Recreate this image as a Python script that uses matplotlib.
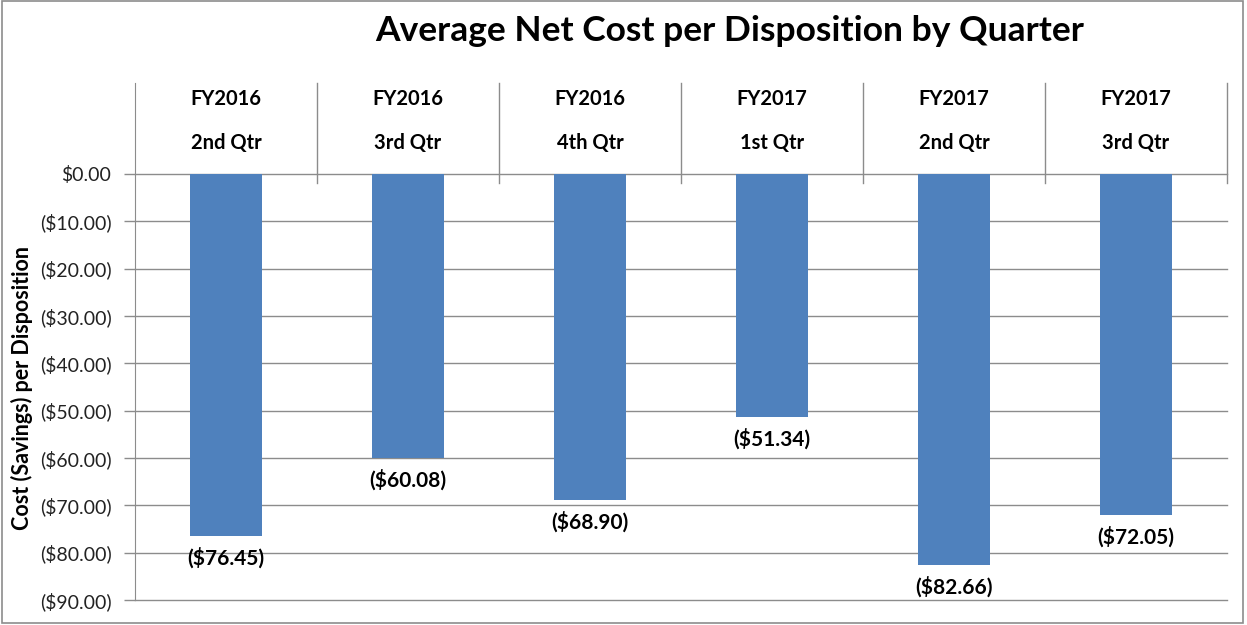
import matplotlib
matplotlib.use('Agg')
import matplotlib.pyplot as plt
from matplotlib.patches import Rectangle

# data
years = ['FY2016', 'FY2016', 'FY2016', 'FY2017', 'FY2017', 'FY2017']
quarters = ['2nd Qtr', '3rd Qtr', '4th Qtr', '1st Qtr', '2nd Qtr', '3rd Qtr']
values = [-76.45, -60.08, -68.90, -51.34, -82.66, -72.05]
yticks = [0, -10, -20, -30, -40, -50, -60, -70, -80, -90]

plt.rcParams['font.family'] = ['Lato', 'DejaVu Sans']


def money(v):
    if v < 0:
        return '(${:,.2f})'.format(-v)
    return '${:,.2f}'.format(v)


fig = plt.figure(figsize=(12.47, 6.25), dpi=100)
ax = fig.add_axes([135 / 1247, 1 - 600 / 625, (1227 - 135) / 1247, (600 - 83) / 625])

grid_col = '#8c8c8c'
x = list(range(len(values)))
ax.bar(x, values, width=0.4, color='#4f81bd', zorder=3)

ax.set_xlim(-0.5, len(values) - 0.5)
ax.set_ylim(-90, 19.2)
ax.set_yticks(yticks)
ax.set_yticklabels([money(v) for v in yticks], fontsize=14, color='#222222')
ax.tick_params(axis='y', length=8, width=1, color=grid_col, pad=9)
ax.set_xticks([])
for t in yticks:
    ax.axhline(t, color=grid_col, lw=1, zorder=1, clip_on=False)

for s in ['top', 'right', 'bottom']:
    ax.spines[s].set_visible(False)
ax.spines['left'].set_color(grid_col)

# category header separators
for i in range(len(values)):
    ax.plot([i + 0.5, i + 0.5], [19.2, -1.9], color=grid_col, lw=1, clip_on=False, zorder=2)

for i in x:
    ax.text(i, 15.8, years[i], ha='center', va='center', fontsize=14.5, fontweight='bold')
    ax.text(i, 6.6, quarters[i], ha='center', va='center', fontsize=14.5, fontweight='bold')
    ax.annotate(money(values[i]), (i, values[i]), xytext=(0, -8), textcoords='offset points',
                ha='center', va='top', fontsize=15, fontweight='bold')

ax.set_ylabel('Cost (Savings) per Disposition', fontsize=15.5, fontweight='bold')
ax.yaxis.set_label_coords(-0.093, 0.41)

fig.text(0.585, 0.95, 'Average Net Cost per Disposition by Quarter', ha='center', va='center',
         fontsize=25.5, fontweight='bold')

fig.patches.append(Rectangle((0.002, 0.004), 0.995, 0.994, transform=fig.transFigure,
                             fill=False, edgecolor='#8c8c8c', lw=1.2))

fig.savefig('out.png', dpi=100)
